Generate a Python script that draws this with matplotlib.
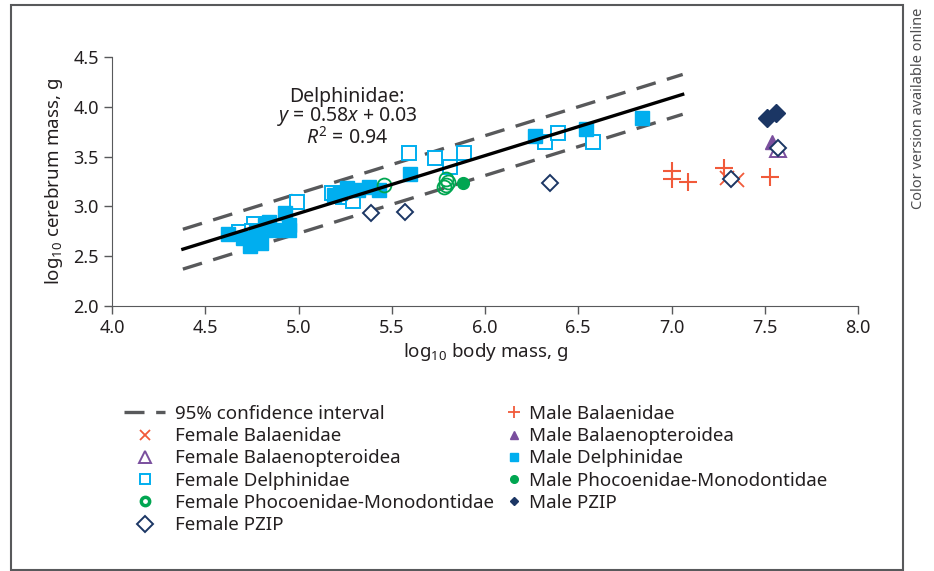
import numpy as np
import matplotlib
matplotlib.use("Agg")
import matplotlib.pyplot as plt
from matplotlib.lines import Line2D
from matplotlib.patches import Rectangle

plt.rcParams['font.family'] = ['Noto Sans', 'DejaVu Sans']
plt.rcParams['mathtext.fontset'] = 'custom'
plt.rcParams['mathtext.rm'] = 'Noto Sans'
plt.rcParams['mathtext.it'] = 'Noto Sans:italic'

TEXT = '#231f20'
C_DELPH = '#00aeef'
C_PHOC = '#00a651'
C_PZIP = '#1b3664'
C_BALP = '#7a4f9e'
C_BAL = '#f15a3a'

# regression for Delphinidae
slope, intercept = 0.58, 0.03
r2 = 0.94
fit_x = [4.38, 7.06]
ci_half = 0.2

# data (log10 body mass, log10 cerebrum mass)
fem_bal_x = [7.30, 7.35]
fem_bal_y = [3.29, 3.27]
male_bal_x = [7.00, 7.00, 7.09, 7.28, 7.53]
male_bal_y = [3.36, 3.28, 3.24, 3.39, 3.30]

fem_balp_x = [7.57]
fem_balp_y = [3.58]
male_balp_x = [7.54]
male_balp_y = [3.65]

fem_delph_x = [4.68, 4.76, 4.75, 4.99, 5.18, 5.24, 5.29, 5.59, 5.73, 5.81, 5.89, 6.32, 6.39, 6.58]
fem_delph_y = [2.74, 2.82, 2.75, 3.04, 3.13, 3.09, 3.05, 3.54, 3.49, 3.40, 3.54, 3.65, 3.74, 3.65]
male_delph_x = [4.62, 4.70, 4.74, 4.77, 4.79, 4.80, 4.82, 4.84, 4.87, 4.93, 4.95, 4.95,
                5.19, 5.22, 5.26, 5.32, 5.38, 5.43, 5.60, 6.27, 6.54, 6.84]
male_delph_y = [2.72, 2.68, 2.60, 2.74, 2.66, 2.63, 2.81, 2.84, 2.76, 2.93, 2.81, 2.76,
                3.11, 3.13, 3.18, 3.16, 3.19, 3.16, 3.33, 3.71, 3.78, 3.89]

fem_phoc_x = [5.46, 5.79, 5.80, 5.79, 5.78]
fem_phoc_y = [3.21, 3.28, 3.24, 3.21, 3.19]
male_phoc_x = [5.88]
male_phoc_y = [3.23]

fem_pzip_x = [5.39, 5.57, 6.35, 7.32, 7.57]
fem_pzip_y = [2.93, 2.94, 3.23, 3.28, 3.59]
male_pzip_x = [7.51, 7.56]
male_pzip_y = [3.89, 3.94]

fig = plt.figure(figsize=(9.34, 5.71), dpi=100)
ax = fig.add_axes([112/934, 1-306/571, 746/934, 249/571])

fx = np.array(fit_x)
fy = slope*fx + intercept
ax.plot(fx, fy, color='black', lw=2.4, zorder=5)
ax.plot(fx, fy + ci_half, color='#58595b', lw=2.4, dashes=(6, 3.5), zorder=1)
ax.plot(fx, fy - ci_half, color='#58595b', lw=2.4, dashes=(6, 3.5), zorder=1)

ax.plot(male_delph_x, male_delph_y, 's', color=C_DELPH, ms=9.5, zorder=3)
ax.plot(fem_delph_x, fem_delph_y, 's', mfc='white', mec=C_DELPH, mew=1.4, ms=10, zorder=2)
ax.plot(fem_phoc_x, fem_phoc_y, 'o', mfc='none', mec=C_PHOC, mew=1.3, ms=10, zorder=4)
ax.plot(male_phoc_x, male_phoc_y, 'o', color=C_PHOC, ms=8.5, zorder=4)
ax.plot(male_bal_x, male_bal_y, '+', color=C_BAL, ms=13, mew=1.5, zorder=3)
ax.plot(fem_bal_x, fem_bal_y, 'x', color=C_BAL, ms=10, mew=1.3, zorder=3)
ax.plot(male_balp_x, male_balp_y, '^', color=C_BALP, ms=10, zorder=3)
ax.plot(fem_balp_x, fem_balp_y, '^', mfc='none', mec=C_BALP, mew=1.4, ms=11, zorder=3)
ax.plot(male_pzip_x, male_pzip_y, 'D', color=C_PZIP, ms=9, zorder=4)
ax.plot(fem_pzip_x, fem_pzip_y, 'D', mfc='white', mec=C_PZIP, mew=1.4, ms=8, zorder=6)

ax.set_xlim(4.0, 8.0)
ax.set_ylim(2.0, 4.5)
ax.set_xticks(np.arange(4.0, 8.01, 0.5))
ax.set_yticks(np.arange(2.0, 4.51, 0.5))
ax.xaxis.set_major_formatter(matplotlib.ticker.FormatStrFormatter('%.1f'))
ax.yaxis.set_major_formatter(matplotlib.ticker.FormatStrFormatter('%.1f'))
ax.tick_params(direction='out', length=6, width=1, colors='#58595b',
               labelcolor=TEXT, labelsize=13)
for s in ['top', 'right']:
    ax.spines[s].set_visible(False)
for s in ['left', 'bottom']:
    ax.spines[s].set_color('#58595b')
ax.set_xlabel('log$_{10}$ body mass, g', fontsize=13.5, color=TEXT, labelpad=3)
ax.set_ylabel('log$_{10}$ cerebrum mass, g', fontsize=13.5, color=TEXT, labelpad=6)

ax.text(5.26, 3.89, 'Delphinidae:\n$y$ = %.2f$x$ + %.2f\n$R^2$ = %.2f' % (slope, intercept, r2),
        ha='center', va='center', fontsize=14, color=TEXT, linespacing=0.9)

# legends
left_handles = [
    Line2D([], [], color='#58595b', lw=2.4, dashes=(6, 3.5)),
    Line2D([], [], marker='x', ls='none', color=C_BAL, ms=7, mew=1.3),
    Line2D([], [], marker='^', ls='none', mfc='none', mec=C_BALP, mew=1.4, ms=9),
    Line2D([], [], marker='s', ls='none', mfc='white', mec=C_DELPH, mew=1.4, ms=7),
    Line2D([], [], marker='o', ls='none', mfc='none', mec=C_PHOC, mew=2.5, ms=6),
    Line2D([], [], marker='D', ls='none', mfc='white', mec=C_PZIP, mew=1.4, ms=8),
]
left_labels = ['95% confidence interval', 'Female Balaenidae', 'Female Balaenopteroidea',
               'Female Delphinidae', 'Female Phocoenidae-Monodontidae', 'Female PZIP']
right_handles = [
    Line2D([], [], marker='+', ls='none', color=C_BAL, ms=8, mew=1.3),
    Line2D([], [], marker='^', ls='none', color=C_BALP, ms=5.5),
    Line2D([], [], marker='s', ls='none', color=C_DELPH, ms=6),
    Line2D([], [], marker='o', ls='none', color=C_PHOC, ms=5.5),
    Line2D([], [], marker='D', ls='none', color=C_PZIP, ms=4.5),
]
right_labels = ['Male Balaenidae', 'Male Balaenopteroidea', 'Male Delphinidae',
                'Male Phocoenidae-Monodontidae', 'Male PZIP']

leg1 = fig.legend(left_handles, left_labels, loc='upper left',
                  bbox_to_anchor=(124/934, 1-405/571), frameon=False, fontsize=13.5,
                  handlelength=2.2, handletextpad=0.5, labelspacing=0.225,
                  borderpad=0, borderaxespad=0)
for t in leg1.get_texts():
    t.set_color(TEXT)
leg2 = fig.legend(right_handles, right_labels, loc='upper left',
                  bbox_to_anchor=(506/934, 1-405/571), frameon=False, fontsize=13.5,
                  handlelength=0.9, handletextpad=0.35, labelspacing=0.225,
                  borderpad=0, borderaxespad=0)
for t in leg2.get_texts():
    t.set_color(TEXT)

# outer frame
fig.patches.append(Rectangle((11/934, 1/571), (903-11)/934, (566-1)/571,
                             transform=fig.transFigure, fill=False,
                             edgecolor='#58595b', lw=1.5))
fig.text(918/934, 1-108/571, 'Color version available online', rotation=90,
         ha='center', va='center', fontsize=10.5, color='#4d4d4f')

fig.savefig('out.png', dpi=100)
